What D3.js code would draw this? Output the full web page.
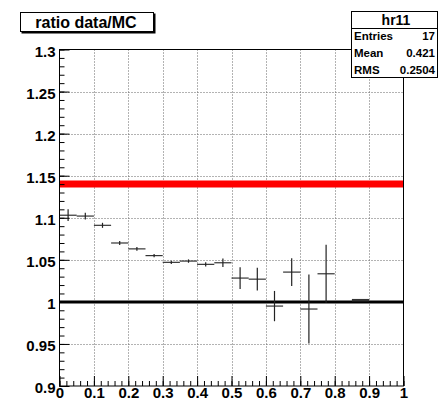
<!DOCTYPE html>
<html lang="en">
<head>
<meta charset="UTF-8">
<title>ratio data/MC</title>
<script src="https://cdn.jsdelivr.net/npm/d3@7"></script>
<style>
	body { margin: 0; background: #fff; }
	svg text { font-family: "Liberation Sans", Arial, sans-serif; font-weight: bold; fill: #000; }
</style>
</head>
<body>
<script>
	// histogram hr11: ratio data/MC, 20 bins of 0.05 on [0,1]
	var binCenters = [0.025, 0.075, 0.125, 0.175, 0.225, 0.275, 0.325, 0.375, 0.425,
		0.475, 0.525, 0.575, 0.625, 0.675, 0.725, 0.775, 0.875];
	var ratios = [1.103, 1.102, 1.091, 1.070, 1.063, 1.055, 1.047, 1.0485, 1.0446,
		1.0465, 1.0283, 1.027, 0.995, 1.0354, 0.9915, 1.0334, 1.002];
	var errors = [0.007, 0.004, 0.003, 0.0025, 0.0022, 0.002, 0.002, 0.002, 0.0025,
		0.005, 0.013, 0.0135, 0.018, 0.0165, 0.041, 0.0345, 0];
	var binWidth = 0.05;

	var xTicks = [0, 0.1, 0.2, 0.3, 0.4, 0.5, 0.6, 0.7, 0.8, 0.9, 1];
	var xTickLabels = ['0', '0.1', '0.2', '0.3', '0.4', '0.5', '0.6', '0.7', '0.8', '0.9', '1'];
	var yTicks = [0.9, 0.95, 1, 1.05, 1.1, 1.15, 1.2, 1.25, 1.3];
	var yTickLabels = ['0.9', '0.95', '1', '1.05', '1.1', '1.15', '1.2', '1.25', '1.3'];

	var redLevel = 1.14;
	var unityLevel = 1.0;

	var statNames = ['Entries', 'Mean', 'RMS'];
	var statValues = ['17', '0.421', '0.2504'];

	var width = 441, height = 402;
	var frame = {left: 59.5, right: 403.5, top: 49.5, bottom: 386};

	var svg = d3.select('body').append('svg')
		.attr('width', width)
		.attr('height', height);

	var x = d3.scaleLinear().domain([0, 1]).range([frame.left, frame.right]);
	var y = d3.scaleLinear().domain([0.9, 1.3]).range([frame.bottom, frame.top]);

	// dotted grid
	var grid = svg.append('g')
		.attr('stroke', '#666')
		.attr('stroke-width', 1)
		.attr('stroke-dasharray', '1,2');
	grid.selectAll('.gx')
		.data(xTicks.slice(1, -1))
		.enter().append('line')
		.attr('x1', function (d) { return Math.round(x(d)) + 0.5; })
		.attr('x2', function (d) { return Math.round(x(d)) + 0.5; })
		.attr('y1', frame.top)
		.attr('y2', frame.bottom);
	grid.selectAll('.gy')
		.data(yTicks.slice(1, -1))
		.enter().append('line')
		.attr('y1', function (d) { return Math.round(y(d)) + 0.5; })
		.attr('y2', function (d) { return Math.round(y(d)) + 0.5; })
		.attr('x1', frame.left)
		.attr('x2', frame.right);

	// reference lines
	svg.append('line')
		.attr('x1', x(0)).attr('x2', x(1))
		.attr('y1', y(redLevel)).attr('y2', y(redLevel))
		.attr('stroke', '#ff0000')
		.attr('stroke-width', 7);
	svg.append('line')
		.attr('x1', x(0)).attr('x2', x(1))
		.attr('y1', y(unityLevel)).attr('y2', y(unityLevel))
		.attr('stroke', '#000')
		.attr('stroke-width', 3);

	// error bar markers
	var pts = svg.append('g')
		.selectAll('.pt')
		.data(binCenters)
		.enter().append('g')
		.attr('class', 'pt');
	pts.append('line')
		.attr('x1', function (d) { return x(d - binWidth / 2); })
		.attr('x2', function (d) { return x(d + binWidth / 2); })
		.attr('y1', function (d, i) { return y(ratios[i]); })
		.attr('y2', function (d, i) { return y(ratios[i]); })
		.attr('stroke', '#333')
		.attr('stroke-width', function (d, i) { return errors[i] > 0 ? 1.2 : 2.5; });
	pts.append('line')
		.attr('x1', function (d) { return x(d); })
		.attr('x2', function (d) { return x(d); })
		.attr('y1', function (d, i) { return y(ratios[i] - errors[i]); })
		.attr('y2', function (d, i) { return y(ratios[i] + errors[i]); })
		.attr('stroke', '#222')
		.attr('stroke-width', 1.2);

	// axes, ticks drawn inward
	var xMinor = d3.range(0, 1.0001, 0.02);
	var yMinor = d3.range(0.9, 1.3001, 0.01);

	svg.append('g')
		.attr('transform', 'translate(0,' + frame.bottom + ')')
		.call(d3.axisBottom(x).tickValues(xMinor).tickSize(-5).tickFormat(''))
		.call(function (g) { g.select('.domain').remove(); });
	svg.append('g')
		.attr('transform', 'translate(' + frame.left + ',0)')
		.call(d3.axisLeft(y).tickValues(yMinor).tickSize(-5).tickFormat(''))
		.call(function (g) { g.select('.domain').remove(); });

	var xAxis = svg.append('g')
		.attr('transform', 'translate(0,' + frame.bottom + ')')
		.call(d3.axisBottom(x).tickValues(xTicks).tickSize(-10).tickPadding(3)
			.tickFormat(function (d, i) { return xTickLabels[i]; }));
	xAxis.select('.domain').remove();
	xAxis.selectAll('text')
		.attr('font-size', 15)
		.attr('font-family', null)
		.attr('y', 1)
		.attr('dy', '0.71em');

	var yAxis = svg.append('g')
		.attr('transform', 'translate(' + frame.left + ',0)')
		.call(d3.axisLeft(y).tickValues(yTicks).tickSize(-10).tickPadding(4)
			.tickFormat(function (d, i) { return yTickLabels[i]; }));
	yAxis.select('.domain').remove();
	yAxis.selectAll('text')
		.attr('font-size', 15)
		.attr('font-family', null)
		.attr('dy', '0.45em');
	svg.selectAll('.tick line').attr('stroke', '#000');

	// frame
	svg.append('rect')
		.attr('x', frame.left)
		.attr('y', frame.top)
		.attr('width', frame.right - frame.left)
		.attr('height', frame.bottom - frame.top)
		.attr('fill', 'none')
		.attr('stroke', '#000');

	// title box
	svg.append('rect')
		.attr('x', 21.5).attr('y', 13.5)
		.attr('width', 134).attr('height', 20)
		.attr('fill', '#000');
	svg.append('rect')
		.attr('x', 20.5).attr('y', 12.5)
		.attr('width', 133).attr('height', 19)
		.attr('fill', '#fff')
		.attr('stroke', '#000');
	svg.append('text')
		.attr('x', 86).attr('y', 28)
		.attr('text-anchor', 'middle')
		.attr('font-size', 16)
		.text('ratio data/MC');

	// stats box
	var stats = svg.append('g');
	stats.append('rect')
		.attr('x', 351.5).attr('y', 11.5)
		.attr('width', 86).attr('height', 66)
		.attr('fill', '#fff')
		.attr('stroke', '#000');
	stats.append('line')
		.attr('x1', 351.5).attr('x2', 437.5)
		.attr('y1', 28.5).attr('y2', 28.5)
		.attr('stroke', '#000');
	stats.append('text')
		.attr('x', 396).attr('y', 25)
		.attr('text-anchor', 'middle')
		.attr('font-size', 14)
		.text('hr11');
	stats.selectAll('.sn')
		.data(statNames)
		.enter().append('text')
		.attr('x', 354)
		.attr('y', function (d, i) { return 40 + i * 17; })
		.attr('font-size', 11.5)
		.text(function (d) { return d; });
	stats.selectAll('.sv')
		.data(statValues)
		.enter().append('text')
		.attr('x', 435)
		.attr('y', function (d, i) { return 40 + i * 17; })
		.attr('text-anchor', 'end')
		.attr('font-size', 11.5)
		.text(function (d) { return d; });
</script>
</body>
</html>
